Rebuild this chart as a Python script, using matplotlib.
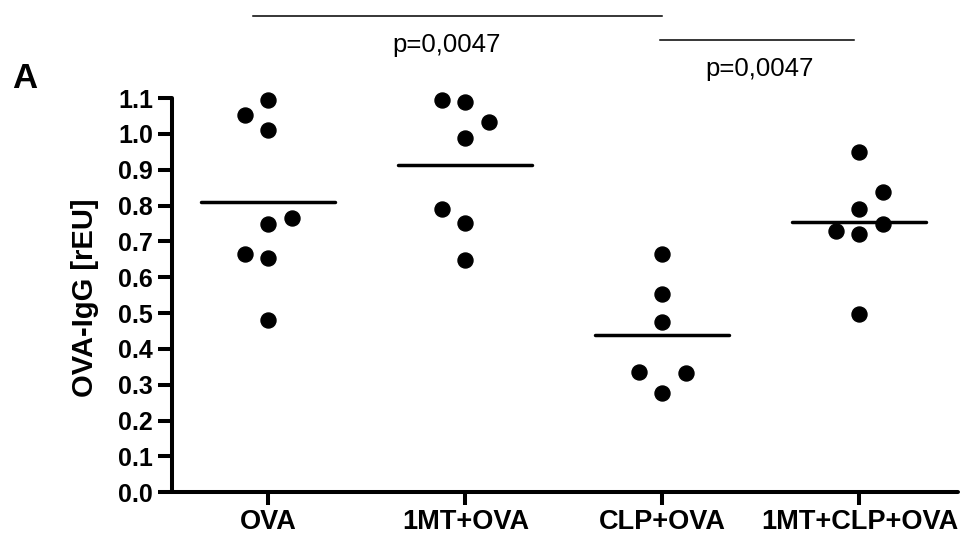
import numpy as np
import matplotlib
matplotlib.use("Agg")
import matplotlib.pyplot as plt

plt.rcParams['font.family'] = ['Liberation Sans', 'DejaVu Sans']

groups = ['OVA', '1MT+OVA', 'CLP+OVA', '1MT+CLP+OVA']

ova = [1.094, 1.052, 1.010, 0.764, 0.749, 0.666, 0.653, 0.481]
mt_ova = [1.094, 1.090, 1.032, 0.989, 0.790, 0.752, 0.648]
clp_ova = [0.666, 0.554, 0.476, 0.335, 0.332, 0.277]
mt_clp_ova = [0.948, 0.837, 0.790, 0.749, 0.728, 0.720, 0.498]

# column of each dot inside its group (-1 left, 0 middle, +1 right)
cols = [
    [0, -1, 0, 1, 0, -1, 0, 0],
    [-1, 0, 1, 0, -1, 0, 0],
    [0, 0, 0, -1, 1, 0],
    [0, 1, 0, 1, -1, 0, 0],
]

p_values = ['p=0,0047', 'p=0,0047']
yticks = np.arange(0, 1.11, 0.1)

data = [ova, mt_ova, clp_ova, mt_clp_ova]

fig = plt.figure(figsize=(9.67, 5.33), dpi=100)
ax = fig.add_axes([0.1776, 0.0764, 0.8131, 0.7397])

for i, vals in enumerate(data):
    x = i + 0.12 * np.array(cols[i])
    ax.plot(x, vals, 'o', color='black', markersize=10.8, clip_on=False, zorder=3)
    m = np.mean(vals)
    ax.plot([i - 0.34, i + 0.34], [m, m], color='black', lw=2.5,
            solid_capstyle='round', zorder=2)

ax.set_xlim(-0.49, 3.5)
ax.set_ylim(0, 1.1)
ax.set_yticks(yticks)
ax.set_yticklabels([f'{v:.1f}' for v in yticks], fontweight='bold', fontsize=18)
ax.set_xticks(range(len(groups)))
ax.set_xticklabels(groups, fontweight='bold', fontsize=19.5)

for s in ['top', 'right']:
    ax.spines[s].set_visible(False)
for s in ['left', 'bottom']:
    ax.spines[s].set_linewidth(2.9)
    ax.spines[s].set_capstyle('round')
ax.tick_params(axis='y', length=10, width=2.9, pad=3.5)
ax.tick_params(axis='x', length=9, width=2.9, pad=3)

# significance bars
ax.plot([-0.08, 2.0], [1.33, 1.33], color='black', lw=1.1, clip_on=False)
ax.text(0.905, 1.249, p_values[0], ha='center', va='center', fontsize=18.5, clip_on=False)
ax.plot([1.99, 2.97], [1.261, 1.261], color='black', lw=1.1, clip_on=False)
ax.text(2.493, 1.180, p_values[1], ha='center', va='center', fontsize=18.5, clip_on=False)

fig.text(85 / 967, 1 - 298 / 533, 'OVA-IgG [rEU]', rotation=90, ha='center',
         va='center', fontsize=21, fontweight='bold')
fig.text(25 / 967, 1 - 79 / 533, 'A', ha='center', va='center', fontsize=25,
         fontweight='bold')

fig.savefig('out.png', dpi=100)
